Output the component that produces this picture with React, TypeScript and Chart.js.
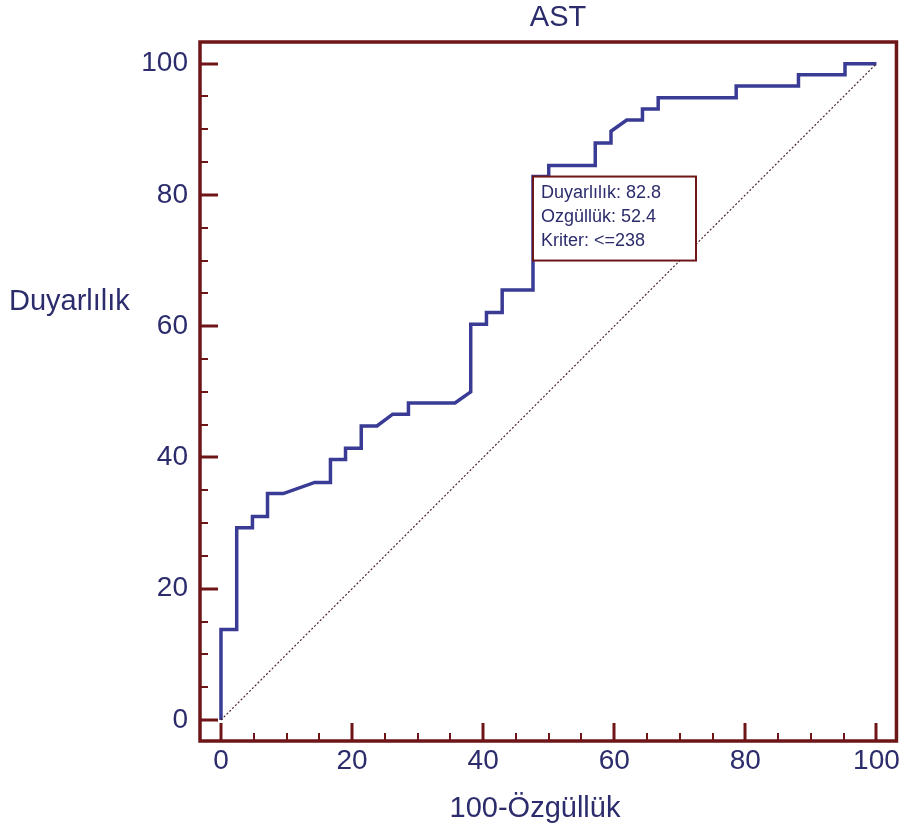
import React, { useEffect, useRef } from "react";
import { Chart, registerables } from "chart.js";

Chart.register(...registerables);

// ROC curve vertices (100-Specificity, Sensitivity)
const ROC_X = [
  0, 0, 2.4, 2.4, 4.8, 4.8, 7.1, 7.1, 9.5, 14.3, 16.7, 16.7, 19.0, 19.0, 21.4, 21.4,
  23.8, 26.2, 28.6, 28.6, 35.7, 38.1, 38.1, 40.5, 40.5, 42.9, 42.9, 47.6, 47.6, 50.0,
  50.0, 57.1, 57.1, 59.5, 59.5, 61.9, 64.3, 64.3, 66.7, 66.7, 78.6, 78.6, 88.1, 88.1,
  95.2, 95.2, 100,
];
const ROC_Y = [
  0, 13.8, 13.8, 29.3, 29.3, 31.0, 31.0, 34.5, 34.5, 36.2, 36.2, 39.7, 39.7, 41.4, 41.4, 44.8,
  44.8, 46.6, 46.6, 48.3, 48.3, 50.0, 60.3, 60.3, 62.1, 62.1, 65.5, 65.5, 82.8, 82.8,
  84.5, 84.5, 87.9, 87.9, 89.7, 91.4, 91.4, 93.1, 93.1, 94.8, 94.8, 96.6, 96.6, 98.3,
  98.3, 100, 100,
];
const DIAG_X = [0, 100];
const DIAG_Y = [0, 100];
const X_TICKS = [0, 20, 40, 60, 80, 100];
const Y_TICKS = [0, 20, 40, 60, 80, 100];
const MINOR_TICKS = [0, 5, 10, 15, 20, 25, 30, 35, 40, 45, 50, 55, 60, 65, 70, 75, 80, 85, 90, 95, 100];
const CRIT_SENS = 82.8;
const CRIT_SPEC = 52.4;
const CRIT_LINES = ["Duyarlılık: 82.8", "Ozgüllük: 52.4", "Kriter: <=238"];
const TITLE = "AST";
const Y_TITLE = "Duyarlılık";
const X_TITLE = "100-Özgüllük";

const FONT = "'Liberation Sans', Arial, sans-serif";
const FRAME = "#6e1518";
const NAVY = "#2c2c6c";
const CURVE = "#3a3b95";

const decorPlugin = {
  id: "decor",
  afterDatasetsDraw(chart: any) {
    const ctx = chart.ctx;
    const xs = chart.scales.x;
    const ys = chart.scales.y;
    const { left, right, top, bottom } = chart.chartArea;
    ctx.save();
    // criterion box
    const bx = xs.getPixelForValue(100 - CRIT_SPEC);
    const by = ys.getPixelForValue(CRIT_SENS);
    const bw = 163;
    const bh = 84;
    ctx.fillStyle = "#ffffff";
    ctx.fillRect(bx, by, bw, bh);
    ctx.strokeStyle = FRAME;
    ctx.lineWidth = 2;
    ctx.strokeRect(bx, by, bw, bh);
    ctx.fillStyle = NAVY;
    ctx.font = `18px ${FONT}`;
    ctx.textAlign = "left";
    ctx.textBaseline = "middle";
    CRIT_LINES.forEach((t, i) => ctx.fillText(t, bx + 8, by + 16 + i * 24));

    // ticks inward
    ctx.strokeStyle = FRAME;
    MINOR_TICKS.forEach((v) => {
      const major = X_TICKS.includes(v);
      ctx.lineWidth = major ? 3 : 2;
      const px = Math.round(xs.getPixelForValue(v));
      ctx.beginPath();
      ctx.moveTo(px, bottom);
      ctx.lineTo(px, bottom - (major ? 18 : 8));
      ctx.stroke();
    });
    MINOR_TICKS.forEach((v) => {
      const major = Y_TICKS.includes(v);
      ctx.lineWidth = major ? 3 : 2;
      const py = Math.round(ys.getPixelForValue(v));
      ctx.beginPath();
      ctx.moveTo(left, py);
      ctx.lineTo(left + (major ? 18 : 8), py);
      ctx.stroke();
    });
    // frame
    ctx.lineWidth = 3.5;
    ctx.strokeRect(left, top, right - left, bottom - top);

    // texts
    ctx.fillStyle = NAVY;
    ctx.font = `29px ${FONT}`;
    ctx.textAlign = "center";
    ctx.textBaseline = "middle";
    ctx.fillText(TITLE, 558, 18);
    ctx.fillText(X_TITLE, 535, 809);
    ctx.textAlign = "left";
    ctx.fillText(Y_TITLE, 9, 302);
    ctx.restore();
  },
};

export default function App() {
  const ref = useRef<HTMLCanvasElement | null>(null);
  useEffect(() => {
    const canvas = ref.current;
    if (!canvas) return;
    const chart = new Chart(canvas, {
      type: "scatter",
      data: {
        datasets: [
          {
            data: DIAG_X.map((x, i) => ({ x, y: DIAG_Y[i] })),
            showLine: true,
            borderColor: "#4a2a2a",
            borderWidth: 1.2,
            borderDash: [2, 2],
            pointRadius: 0,
          },
          {
            data: ROC_X.map((x, i) => ({ x, y: ROC_Y[i] })),
            showLine: true,
            borderColor: CURVE,
            borderWidth: 3.5,
            pointRadius: 0,
            tension: 0,
          },
        ],
      },
      options: {
        animation: false,
        responsive: false,
        devicePixelRatio: 1,
        layout: { padding: { left: 0, right: 6, top: 42, bottom: 0 } },
        plugins: {
          legend: { display: false },
          tooltip: { enabled: false },
          title: { display: false },
        },
        scales: {
          x: {
            type: "linear",
            min: -3.2,
            max: 103.05,
            grid: { display: false, drawTicks: false },
            border: { display: false },
            afterBuildTicks: (s: any) => {
              s.ticks = X_TICKS.map((v) => ({ value: v }));
            },
            afterFit: (s: any) => {
              s.height = 91;
            },
            ticks: {
              color: NAVY,
              font: { family: FONT, size: 28 },
              padding: 3,
              maxRotation: 0,
              autoSkip: false,
            },
          },
          y: {
            type: "linear",
            min: -3.2,
            max: 103.3,
            grid: { display: false, drawTicks: false },
            border: { display: false },
            afterBuildTicks: (s: any) => {
              s.ticks = Y_TICKS.map((v) => ({ value: v }));
            },
            afterFit: (s: any) => {
              s.width = 200;
            },
            ticks: {
              color: NAVY,
              font: { family: FONT, size: 28 },
              padding: 12,
              autoSkip: false,
            },
          },
        },
      },
      plugins: [decorPlugin],
    } as any);
    return () => chart.destroy();
  }, []);
  return (
    <div style={{ position: "fixed", left: 0, top: 0, width: 903, height: 832, background: "#fff" }}>
      <canvas ref={ref} width={903} height={832} style={{ width: 903, height: 832, display: "block" }} />
    </div>
  );
}
